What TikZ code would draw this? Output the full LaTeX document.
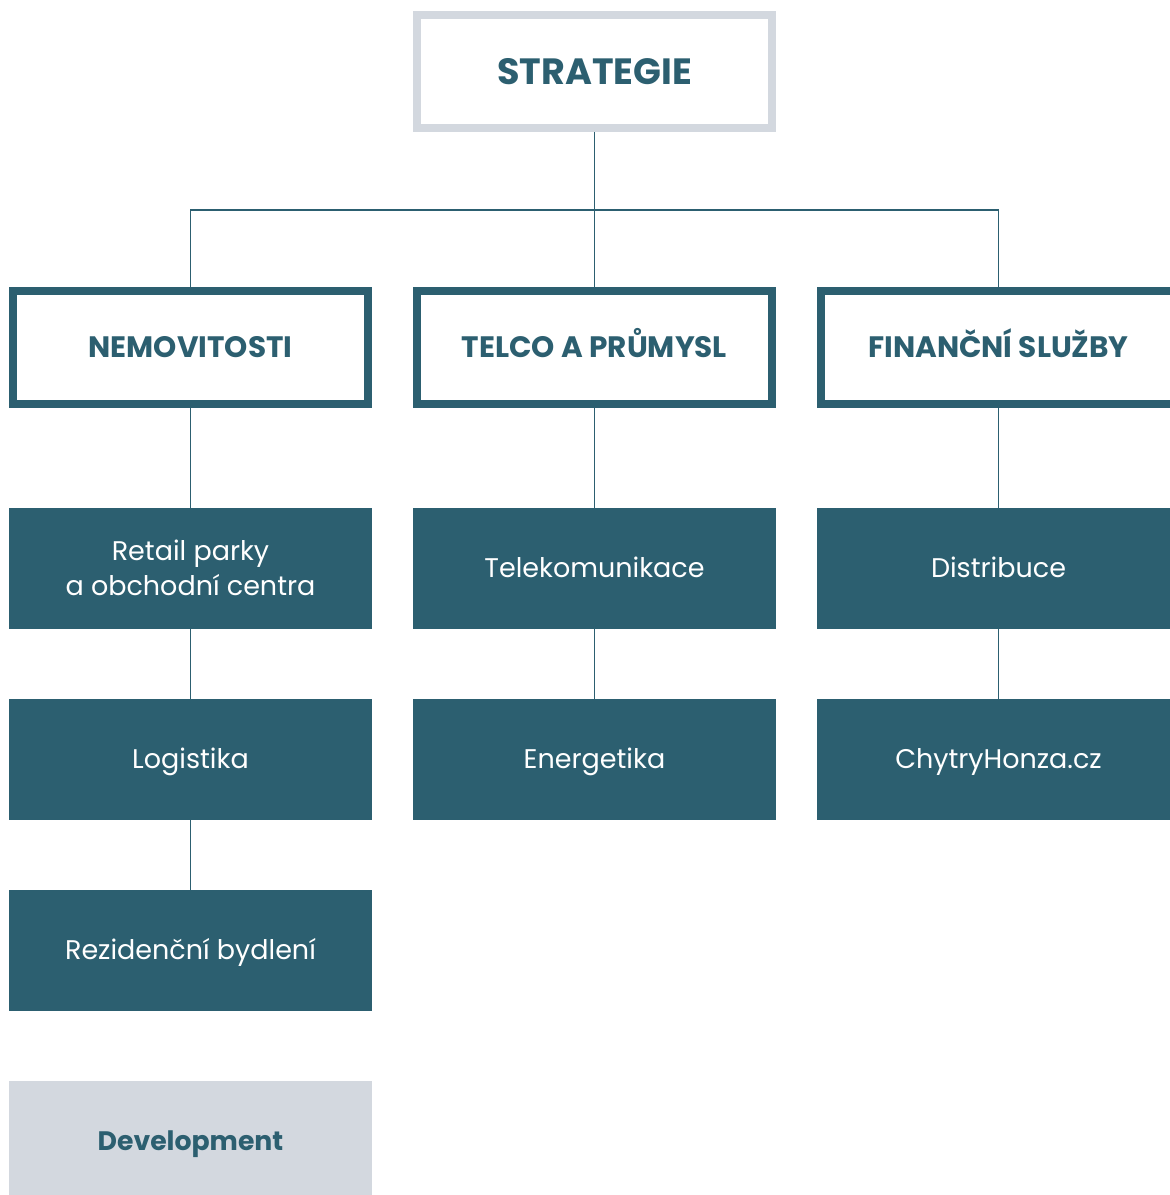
\documentclass[tikz,border=0pt]{standalone}
\usepackage{fontspec}
\setmainfont{Poppins}
\usepackage{tikz}
\usetikzlibrary{positioning, backgrounds}

\definecolor{groupteal}{HTML}{2C5F70}
\definecolor{groupgray}{HTML}{D3D8DF}

\begin{document}
\begin{tikzpicture}[
    % GLOBAL CFG
    inner sep=0pt,
    text depth=0pt,
    % Styles
    topbox/.style={% For the strategy box on top
        rectangle,
        draw=groupgray,
        line width=0.2cm,
        fill=white,
        minimum width=8.875cm,
        minimum height=2.825cm,
        text=groupteal,
        text height=18.2pt,
        font=\bfseries\fontsize{26}{30}\selectfont,
        },
    headbox/.style={% For the three divisions
        rectangle,
        draw=groupteal,
        line width=0.2cm,
        fill=white,
        minimum width=8.875cm,
        minimum height=2.825cm,
        text=groupteal,
        text height=14.7pt,
        font=\bfseries\fontsize{21}{24}\selectfont,
        },
    unitbox/.style={% For the filled business units
        rectangle,
        fill=groupteal,
        minimum width=9.075cm,
        minimum height=3.025cm,
        text=white,
        text height=13.4pt,
        align=center,
        font=\fontsize{19.2}{24.9}\selectfont,
        },
    devbox/.style={% For the grey development box
        rectangle,
        fill=groupgray,
        minimum width=9.075cm,
        minimum height=3.025cm,
        text=groupteal,
        text height=13.3pt,
        font=\bfseries\fontsize{19}{22}\selectfont,
        },
    link/.style={% Thin connecting lines
        draw=groupteal,
        line width=0.035cm,
        }
    ]

    % Fix the page size
    \useasboundingbox (0,0) rectangle (29.225,-29.875);

    % Draw the top box
    \node [topbox] (strat) at (14.8625,-1.7875) {STRATEGIE};

    % Draw the divisions
    \node [headbox] (nemo) at (4.7625,-8.6875) {NEMOVITOSTI};
    \node [headbox] (telco) at (14.8625,-8.6875) {TELCO A PRŮMYSL};
    \node [headbox] (fin) at (24.9625,-8.6875) {FINANČNÍ SLUŽBY};

    % Draw the units, named after the divisions
    \node [unitbox, text height=38.3pt] (nemo1) at (4.7625,-14.2125) {Retail parky\\a obchodní centra};
    \node [unitbox] (nemo2) at (4.7625,-18.9875) {Logistika};
    \node [unitbox] (nemo3) at (4.7625,-23.7625) {Rezidenční bydlení};
    \node [devbox] (dev) at (4.7625,-28.5375) {Development};

    \node [unitbox] (telco1) at (14.8625,-14.2125) {Telekomunikace};
    \node [unitbox] (telco2) at (14.8625,-18.9875) {Energetika};

    \node [unitbox] (fin1) at (24.9625,-14.2125) {Distribuce};
    \node [unitbox] (fin2) at (24.9625,-18.9875) {ChytryHonza.cz};

    % Junction of the horizontal line
    \coordinate (bus) at (14.8625,-5.25);

% Start connecting all, behind the boxes
    \begin{pgfonlayer}{background}
    \draw [link] (strat) -- (telco);
    \draw [link] (nemo) |- (bus) -| (fin);

    \draw [link] (nemo) -- (nemo1);
    \draw [link] (nemo1) -- (nemo2);
    \draw [link] (nemo2) -- (nemo3);

    \draw [link] (telco) -- (telco1);
    \draw [link] (telco1) -- (telco2);

    \draw [link] (fin) -- (fin1);
    \draw [link] (fin1) -- (fin2);
    \end{pgfonlayer}

\end{tikzpicture}
\end{document}
